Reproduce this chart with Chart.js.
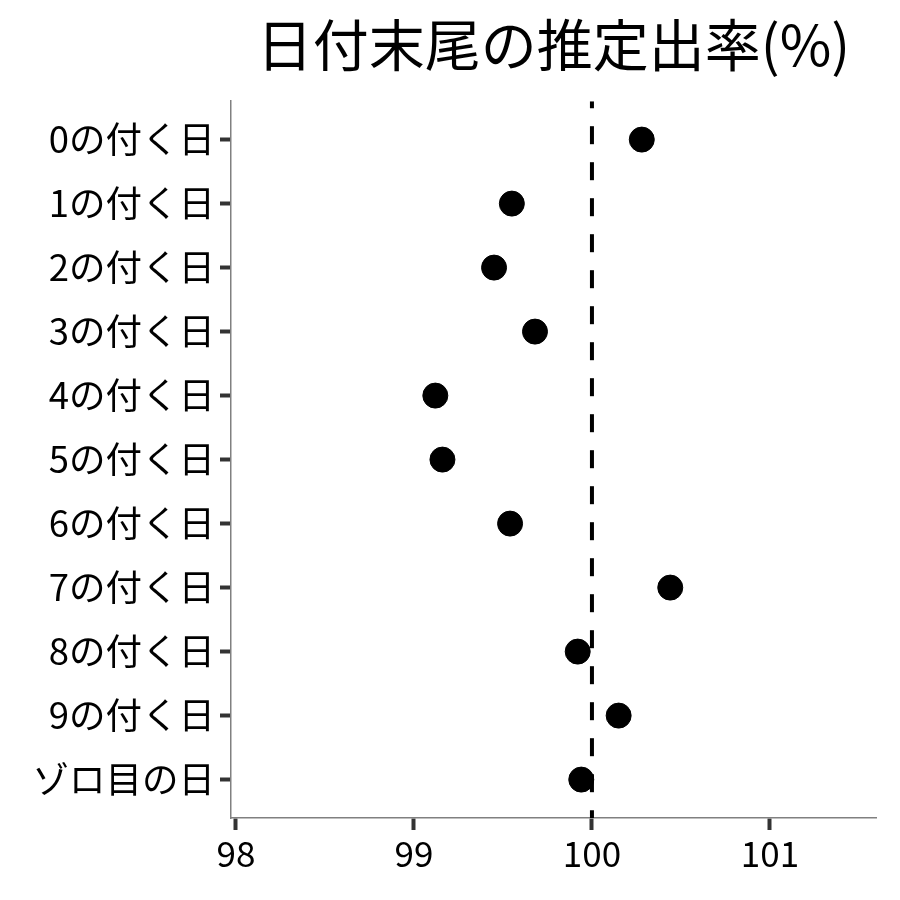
<!DOCTYPE html>
<html>
<head>
<meta charset="utf-8">
<script src="https://cdn.jsdelivr.net/npm/chart.js@4"></script>
<style>
  body { margin: 0; background: #fff; }
</style>
</head>
<body>
<canvas id="rateChart" width="900" height="900"></canvas>
<script>
const categories = ['0の付く日', '1の付く日', '2の付く日', '3の付く日', '4の付く日', '5の付く日',
    '6の付く日', '7の付く日', '8の付く日', '9の付く日', 'ゾロ目の日'];
const rates = [100.28, 99.55, 99.45, 99.68, 99.12, 99.16, 99.54, 100.44, 99.92, 100.15, 99.94];
const xTicks = [98, 99, 100, 101];
const refValue = 100;

const fontFamily = '"Noto Sans CJK JP", "Noto Sans", sans-serif';

const ctx = document.getElementById('rateChart').getContext('2d');
const rateChart = new Chart(ctx, {
    type: 'scatter',
    data: {
        datasets: [{
            // dashed reference line at 100
            type: 'line',
            data: [{x: refValue, y: -0.6}, {x: refValue, y: categories.length - 0.4}],
            borderColor: '#000',
            borderWidth: 4,
            borderDash: [18, 18],
            borderDashOffset: 11,
            pointRadius: 0,
            fill: false,
            order: 0
        },
        {
            data: rates.map((v, i) => ({x: v, y: i})),
            backgroundColor: '#000',
            borderColor: '#000',
            pointRadius: 12.5,
            order: 1
        }]
    },
    options: {
        responsive: false,
        animation: false,
        layout: {
            padding: {left: 0, right: 24, top: 0, bottom: 0}
        },
        plugins: {
            legend: {display: false},
            tooltip: {enabled: false},
            title: {
                display: true,
                text: '日付末尾の推定出率(%)',
                fullSize: false,
                color: '#000',
                font: {family: fontFamily, size: 56, weight: 'normal', lineHeight: 1.2},
                padding: {top: 11, bottom: 23}
            }
        },
        scales: {
            x: {
                type: 'linear',
                min: 97.972,
                max: 101.596,
                afterBuildTicks: (scale) => {
                    scale.ticks = xTicks.map(v => ({value: v}));
                },
                afterFit: (scale) => { scale.height = 82; },
                grid: {
                    drawOnChartArea: false,
                    tickLength: 12,
                    tickWidth: 4,
                    tickColor: '#333'
                },
                border: {color: '#808080', width: 1.5},
                ticks: {
                    color: '#000',
                    padding: 3,
                    font: {family: fontFamily, size: 35}
                }
            },
            y: {
                type: 'linear',
                reverse: true,
                min: -0.6,
                max: categories.length - 0.4,
                afterBuildTicks: (scale) => {
                    scale.ticks = categories.map((c, i) => ({value: i}));
                },
                afterFit: (scale) => { scale.width = 231; },
                grid: {
                    drawOnChartArea: false,
                    tickLength: 11,
                    tickWidth: 4,
                    tickColor: '#333'
                },
                border: {color: '#808080', width: 1.5},
                ticks: {
                    color: '#000',
                    padding: 5,
                    font: {family: fontFamily, size: 36.5},
                    callback: (value) => categories[value]
                }
            }
        }
    }
});
</script>
</body>
</html>
